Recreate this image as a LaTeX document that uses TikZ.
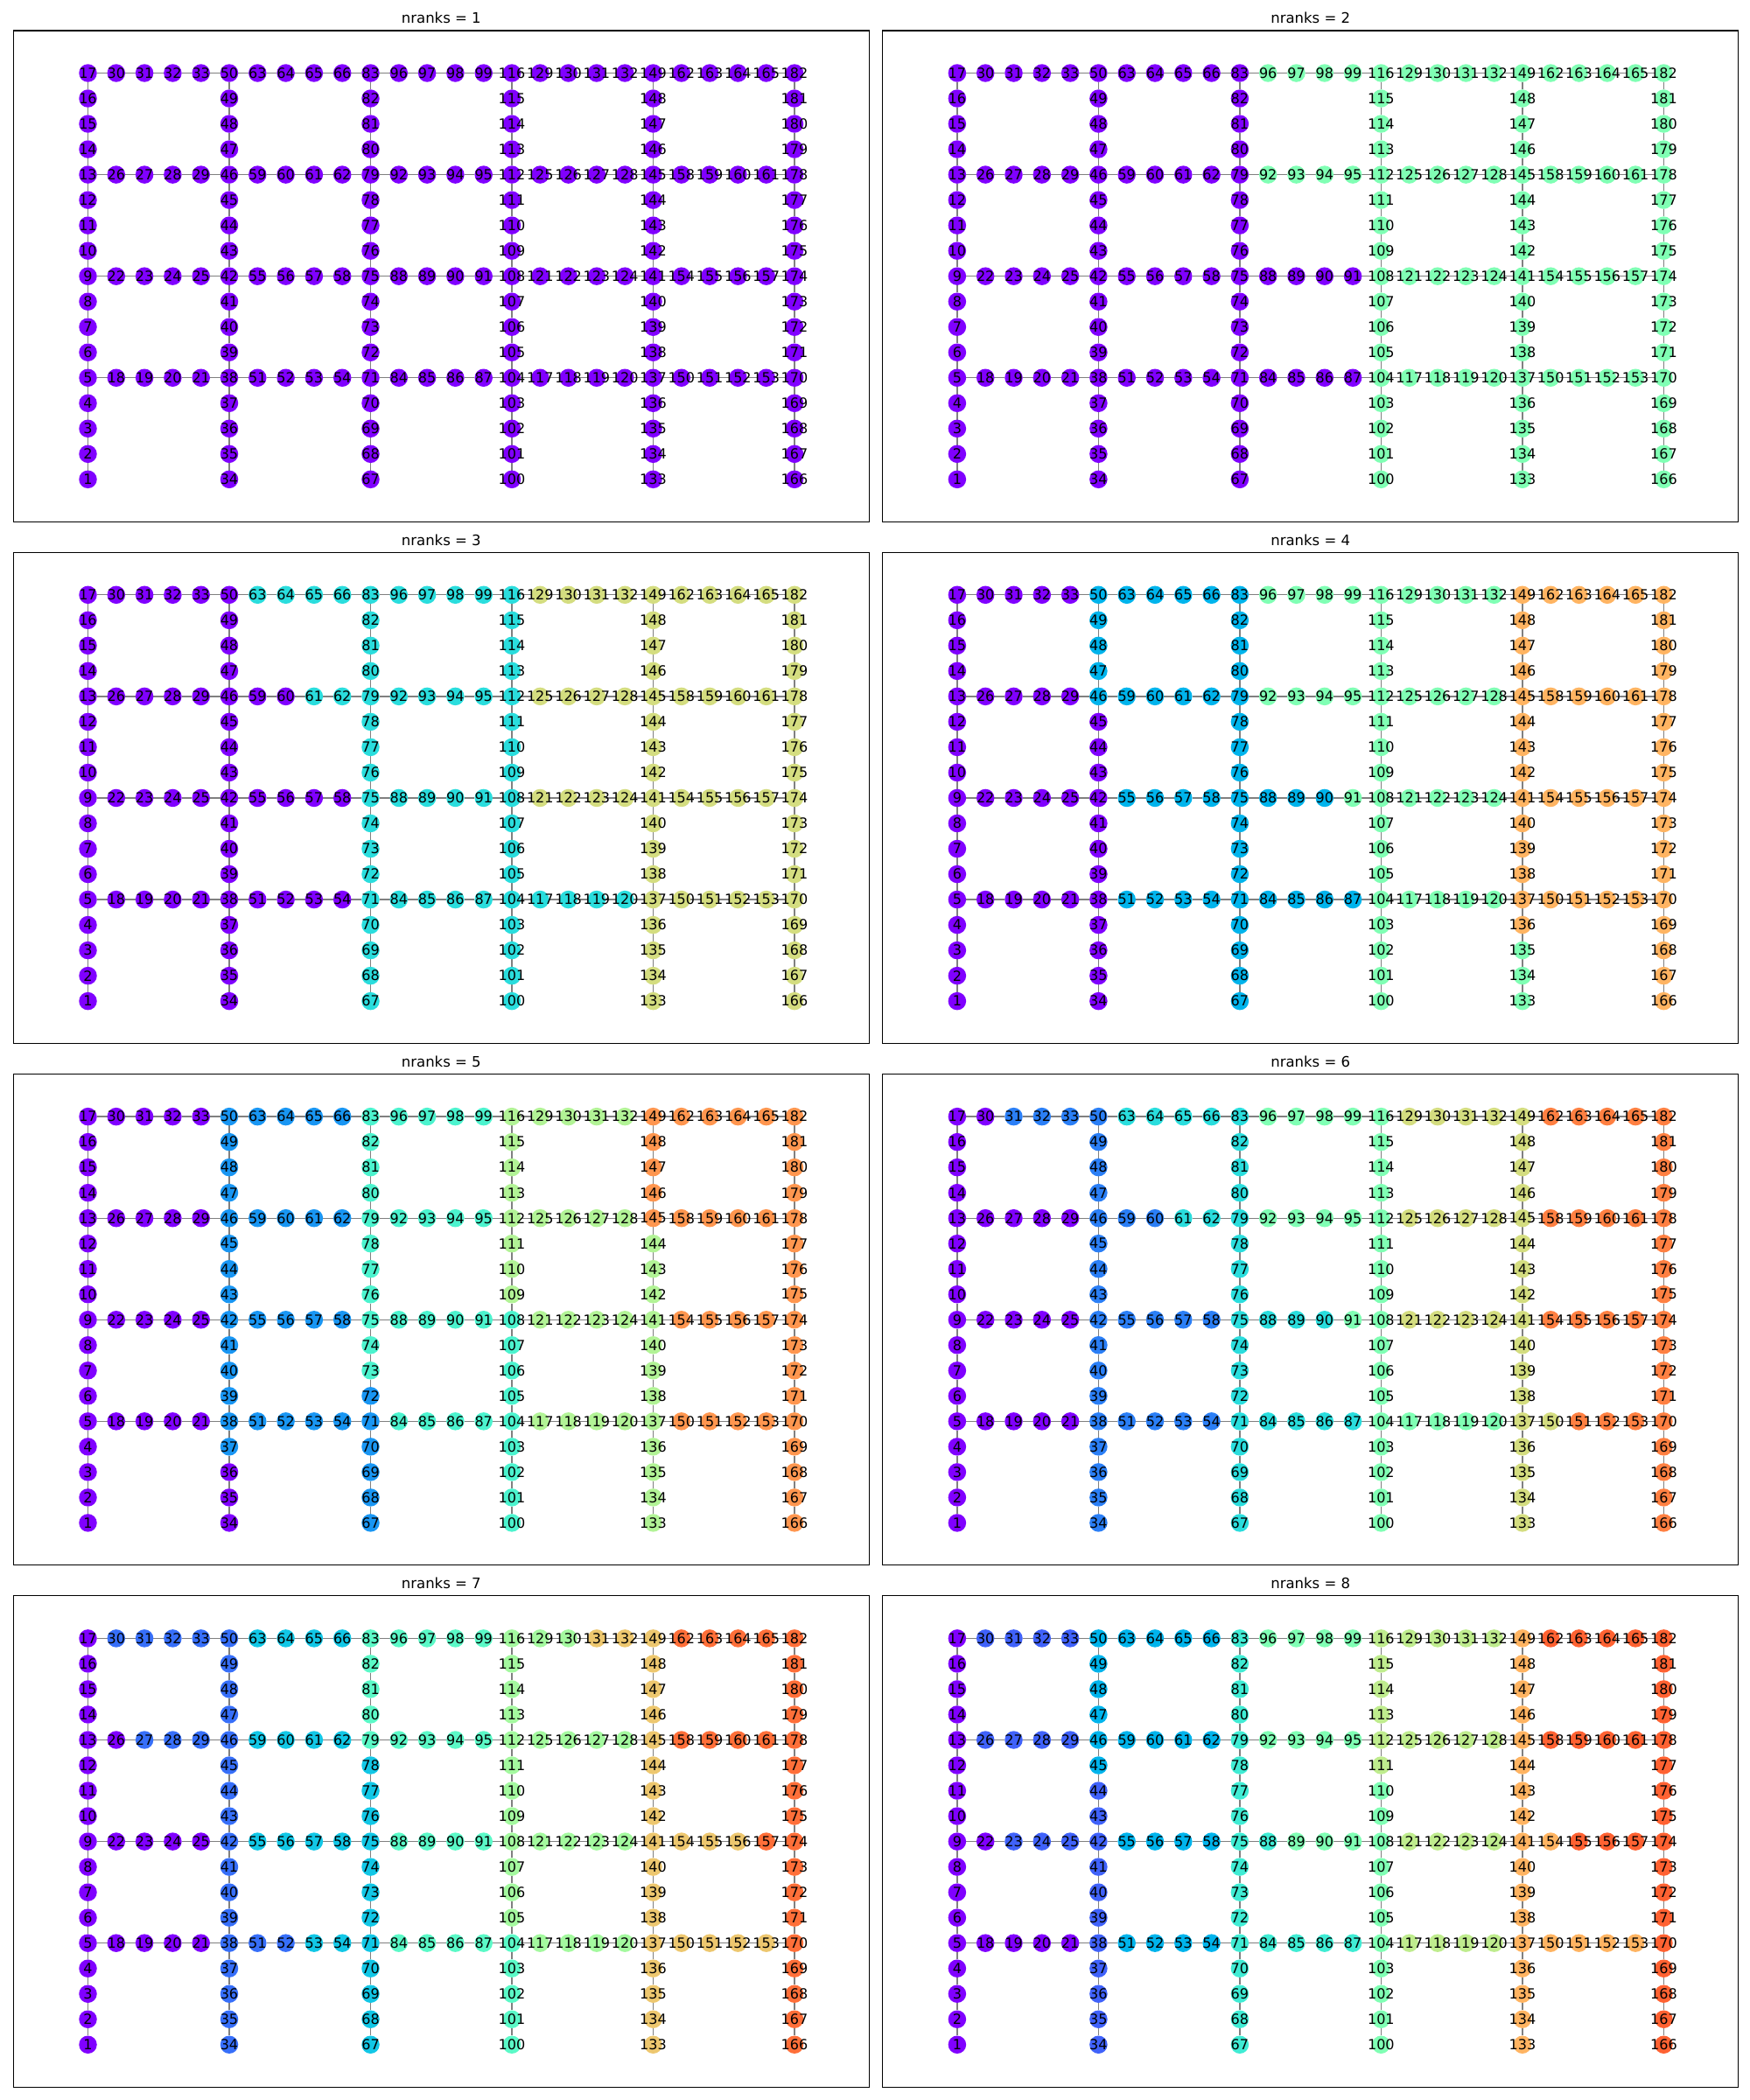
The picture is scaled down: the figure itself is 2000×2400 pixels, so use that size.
\documentclass[tikz,border=0pt]{standalone}
\usepackage{fontspec}
\setmainfont{DejaVu Sans}
\usetikzlibrary{calc,backgrounds}

\begin{document}
\begin{tikzpicture}[x=0.5pt,y=-0.5pt,
  vtx/.style={circle,inner sep=0pt,outer sep=0pt,minimum size=10.25pt,
              font=\fontsize{8}{9}\selectfont},
  ed/.style={draw=black!50,line width=0.65pt},
  frm/.style={draw=black,line width=0.55pt},
  ttl/.style={anchor=base,font=\fontsize{8.25}{9}\selectfont}]
\useasboundingbox (0,0) rectangle (2000,2400);
\foreach \n in {1,...,8} {
  \pgfmathsetmacro\ox{15.3+993.4*mod(\n-1,2)}
  \pgfmathsetmacro\oy{35+596.3*floor((\n-1)/2)}
  \pgfmathtruncatemacro\q{floor(182/\n)}
  \draw[frm] (\ox,\oy) rectangle ++(978,561.3);
  \node[ttl] (t\n) at (\ox+489,\oy-8.3) {nranks = \n};
  % vertices: columns of 17, rungs of 4 between them
  \foreach \id in {1,...,182} {
    \pgfmathtruncatemacro\k{floor((\id-1)/33)}
    \pgfmathtruncatemacro\m{\id-33*\k}
    \pgfmathsetmacro\gx{\m<18 ? 5*\k : 5*\k+1+mod(\m-18,4)}
    \pgfmathsetmacro\gy{\m<18 ? \m : 5+4*floor((\m-18)/4)}
    \pgfmathtruncatemacro\rk{min(floor((\id-1)/\q),\n-1)}
    \pgfmathsetmacro\fr{\rk/\n}
    \pgfmathsetmacro\cr{min(1,abs(2*\fr-0.5))}
    \pgfmathsetmacro\cg{sin(180*\fr)}
    \pgfmathsetmacro\cb{cos(90*\fr)}
    \definecolor{vc}{rgb}{\cr,\cg,\cb}
    \node[vtx,fill=vc] (p\n-\id) at (\ox+85.2+\gx*32.3,\oy+48.5+17*29.02-\gy*29.02)
      {\makebox[0pt]{\id}};
  }
  \begin{pgfonlayer}{background}
  \foreach \k in {0,...,5} \foreach \j in {1,...,16} {
    \pgfmathtruncatemacro\a{33*\k+\j}
    \pgfmathtruncatemacro\b{\a+1}
    \draw[ed] (p\n-\a) -- (p\n-\b);
  }
  \foreach \k in {0,...,4} \foreach \r in {0,...,3} {
    \pgfmathtruncatemacro\a{33*\k+5+4*\r}
    \pgfmathtruncatemacro\b{33*\k+18+4*\r}
    \pgfmathtruncatemacro\c{\b+1}
    \pgfmathtruncatemacro\d{\b+2}
    \pgfmathtruncatemacro\e{\b+3}
    \pgfmathtruncatemacro\f{\a+33}
    \draw[ed] (p\n-\a) -- (p\n-\b) -- (p\n-\c) -- (p\n-\d) -- (p\n-\e) -- (p\n-\f);
  }
  \end{pgfonlayer}
}
\end{tikzpicture}
\end{document}
